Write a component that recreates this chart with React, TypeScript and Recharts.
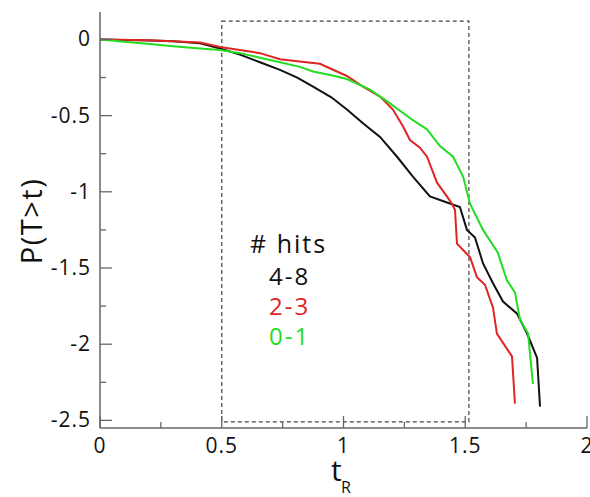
import { LineChart, Line, XAxis, YAxis, ReferenceArea } from "recharts";

// 4-8 hits
const blackX = [0, 0.1, 0.205, 0.3, 0.411, 0.493, 0.575, 0.657, 0.739, 0.81, 0.875, 0.95, 1.014, 1.08, 1.15, 1.22, 1.285, 1.355, 1.425, 1.478, 1.507, 1.54, 1.573, 1.614, 1.655, 1.713, 1.754, 1.795, 1.807];
const blackY = [0, -0.003, -0.007, -0.012, -0.025, -0.06, -0.1, -0.15, -0.2, -0.25, -0.31, -0.38, -0.46, -0.55, -0.64, -0.77, -0.9, -1.03, -1.07, -1.1, -1.25, -1.3, -1.47, -1.6, -1.72, -1.8, -1.93, -2.09, -2.41];

// 2-3 hits
const redX = [0, 0.205, 0.411, 0.493, 0.575, 0.657, 0.739, 0.82, 0.903, 1.014, 1.08, 1.15, 1.203, 1.244, 1.273, 1.314, 1.343, 1.384, 1.429, 1.446, 1.458, 1.466, 1.52, 1.548, 1.581, 1.614, 1.63, 1.692, 1.704];
const redY = [0, -0.005, -0.02, -0.05, -0.07, -0.09, -0.13, -0.145, -0.16, -0.24, -0.31, -0.375, -0.46, -0.57, -0.66, -0.71, -0.77, -0.94, -1.04, -1.08, -1.12, -1.34, -1.43, -1.56, -1.61, -1.76, -1.93, -2.08, -2.39];

// 0-1 hits
const greenX = [0, 0.1, 0.205, 0.3, 0.411, 0.493, 0.575, 0.657, 0.739, 0.821, 0.875, 0.95, 1.014, 1.109, 1.191, 1.285, 1.343, 1.396, 1.45, 1.491, 1.52, 1.573, 1.634, 1.671, 1.704, 1.725, 1.758, 1.778];
const greenY = [0, -0.015, -0.03, -0.045, -0.06, -0.07, -0.09, -0.12, -0.15, -0.18, -0.21, -0.235, -0.26, -0.33, -0.42, -0.53, -0.59, -0.7, -0.77, -0.9, -1.08, -1.25, -1.4, -1.58, -1.66, -1.84, -1.93, -2.26];

const xTicks = [0, 0.25, 0.5, 0.75, 1, 1.25, 1.5, 1.75, 2];
const yTicks = [-2.5, -2.25, -2, -1.75, -1.5, -1.25, -1, -0.75, -0.5, -0.25, 0];

// dashed window
const boxX = [0.5, 1.515];
const boxY = [-2.51, 0.12];

const legendLabels = ["4-8", "2-3", "0-1"];
const legendColors = ["#111111", "#e02424", "#22dd22"];

const toPoints = (xs: number[], ys: number[]) => xs.map((x, i) => ({ x, y: ys[i] }));

const FONT = "'Open Sans', sans-serif";
const AXIS = "#666";

const isMajor = (v: number) => Math.abs(v * 2 - Math.round(v * 2)) < 1e-9;

function tickFor(side: "bottom" | "top" | "left" | "right") {
  return (props: any) => {
    const { x, y, payload } = props;
    const v = payload.value as number;
    const len = isMajor(v) ? 12 : 6;
    let line;
    if (side === "bottom") line = <line x1={x} y1={y} x2={x} y2={y - len} stroke={AXIS} strokeWidth={1.3} />;
    else if (side === "top") line = <line x1={x} y1={y} x2={x} y2={y + len} stroke={AXIS} strokeWidth={1.3} />;
    else if (side === "left") line = <line x1={x} y1={y} x2={x + len} y2={y} stroke={AXIS} strokeWidth={1.3} />;
    else line = <line x1={x} y1={y} x2={x - len} y2={y} stroke={AXIS} strokeWidth={1.3} />;
    let label = null;
    if (isMajor(v) && side === "bottom") {
      label = (
        <text x={x} y={y + 25} textAnchor="middle" fontSize={21} letterSpacing={1} fontFamily={FONT} fill="#111">
          {String(v)}
        </text>
      );
    }
    if (isMajor(v) && side === "left") {
      label = (
        <text x={x - 9} y={y + 7} textAnchor="end" fontSize={21} letterSpacing={1} fontFamily={FONT} fill="#111">
          {String(v)}
        </text>
      );
    }
    return (
      <g>
        {line}
        {label}
      </g>
    );
  };
}

export default function App() {
  const series = [
    { name: "4-8", data: toPoints(blackX, blackY), color: legendColors[0] },
    { name: "2-3", data: toPoints(redX, redY), color: legendColors[1] },
    { name: "0-1", data: toPoints(greenX, greenY), color: legendColors[2] },
  ];

  return (
    <div style={{ position: "relative", width: 590, height: 497, background: "#fff", fontFamily: FONT }}>
      <style>{"body{margin:0}"}</style>
      <LineChart width={590} height={497} margin={{ top: 12, right: 3, bottom: 0, left: 0 }}>
        <XAxis
          dataKey="x"
          type="number"
          domain={[0, 2]}
          ticks={xTicks}
          height={69}
          allowDataOverflow
          tickLine={false}
          tickSize={0}
          tickMargin={0}
          tick={tickFor("bottom")}
          stroke={AXIS}
          strokeWidth={1.5}
          interval={0}
        />
        <XAxis
          xAxisId="top"
          orientation="top"
          dataKey="x"
          type="number"
          domain={[0, 2]}
          ticks={xTicks}
          height={0}
          tickLine={false}
          tickSize={0}
          tickMargin={0}
          tick={tickFor("top")}
          stroke={AXIS}
          strokeWidth={1.5}
          interval={0}
        />
        <YAxis
          type="number"
          domain={[-2.55, 0.18]}
          ticks={yTicks}
          width={100}
          allowDataOverflow
          tickLine={false}
          tickSize={0}
          tickMargin={0}
          tick={tickFor("left")}
          stroke={AXIS}
          strokeWidth={1.5}
          interval={0}
        />
        <YAxis
          yAxisId="right"
          orientation="right"
          type="number"
          domain={[-2.55, 0.18]}
          ticks={yTicks}
          width={0}
          tickLine={false}
          tickSize={0}
          tickMargin={0}
          tick={tickFor("right")}
          stroke={AXIS}
          strokeWidth={1.5}
          interval={0}
        />
        <ReferenceArea
          x1={boxX[0]}
          x2={boxX[1]}
          y1={boxY[0]}
          y2={boxY[1]}
          fill="none"
          fillOpacity={0}
          stroke="#444"
          strokeWidth={1.2}
          strokeDasharray="4 3"
        />
        {series.map((s) => (
          <Line
            key={s.name}
            data={s.data}
            dataKey="y"
            type="linear"
            stroke={s.color}
            strokeWidth={2}
            dot={false}
            isAnimationActive={false}
          />
        ))}
      </LineChart>

      <div
        style={{
          position: "absolute",
          left: 30,
          top: 221,
          transform: "translate(-50%, -50%) rotate(-90deg)",
          fontSize: 29,
          letterSpacing: 1.5,
          whiteSpace: "nowrap",
          color: "#111",
          lineHeight: 1,
        }}
      >
        P(T&gt;t)
      </div>
      <div style={{ position: "absolute", left: 331, top: 459, fontSize: 30, color: "#111", lineHeight: 0.75 }}>t</div>
      <div style={{ position: "absolute", left: 341, top: 480, fontSize: 16, color: "#111", lineHeight: 0.9 }}>R</div>

      <div
        style={{
          position: "absolute",
          left: 250,
          top: 228,
          fontSize: 25,
          letterSpacing: 2,
          color: "#111",
          lineHeight: "30px",
          whiteSpace: "nowrap",
        }}
      >
        # hits
      </div>
      {legendLabels.map((l, i) => (
        <div
          key={l}
          style={{
            position: "absolute",
            left: 269,
            top: 261 + i * 30,
            fontSize: 24,
            letterSpacing: 2,
            color: legendColors[i],
            lineHeight: "30px",
          }}
        >
          {l}
        </div>
      ))}
    </div>
  );
}
